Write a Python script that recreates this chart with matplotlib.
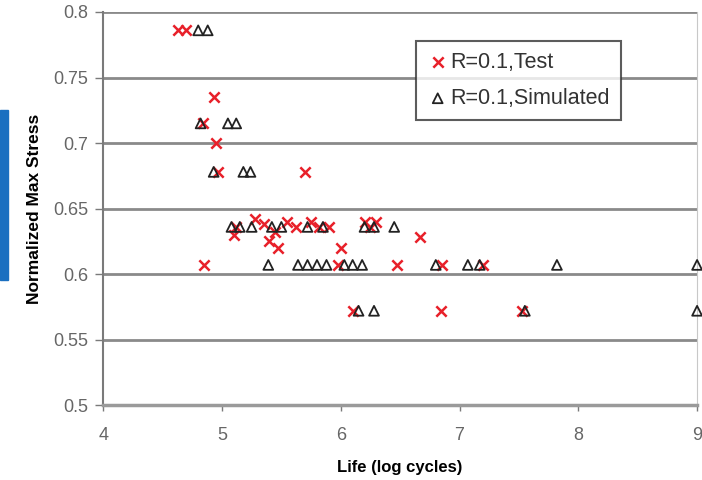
import matplotlib
matplotlib.use('Agg')
import matplotlib.pyplot as plt
from matplotlib.patches import Rectangle

plt.rcParams['font.family'] = ['Liberation Sans', 'DejaVu Sans']

# R=0.1, Test (red x markers)
test_life = [4.63, 4.70, 4.93, 4.84, 4.95, 4.97, 5.70,
             5.10, 5.12, 5.28, 5.35, 5.40, 5.45, 5.47, 5.55, 5.62, 5.75, 5.82,
             5.90, 6.00, 6.20, 6.25, 6.30, 6.67,
             4.85, 5.98, 6.47, 6.85, 7.20,
             6.10, 6.84, 7.53]
test_stress = [0.786, 0.786, 0.735, 0.715, 0.700, 0.678, 0.678,
               0.630, 0.636, 0.642, 0.638, 0.625, 0.632, 0.620, 0.640, 0.636, 0.640, 0.636,
               0.636, 0.620, 0.640, 0.636, 0.640, 0.628,
               0.607, 0.607, 0.607, 0.607, 0.607,
               0.572, 0.572, 0.572]

# R=0.1, Simulated (open triangles)
sim_life = [4.80, 4.88, 4.82, 5.05, 5.12, 4.93, 5.18, 5.24,
            5.08, 5.15, 5.25, 5.42, 5.50, 5.72, 5.85, 6.20, 6.28, 6.45,
            5.39, 5.64, 5.72, 5.80, 5.88, 6.03, 6.10, 6.18, 6.80, 7.07, 7.17, 7.82, 9.00,
            6.15, 6.28, 7.55, 9.00]
sim_stress = [0.786, 0.786, 0.715, 0.715, 0.715, 0.678, 0.678, 0.678,
              0.636, 0.636, 0.636, 0.636, 0.636, 0.636, 0.636, 0.636, 0.636, 0.636,
              0.607, 0.607, 0.607, 0.607, 0.607, 0.607, 0.607, 0.607, 0.607, 0.607, 0.607, 0.607, 0.607,
              0.572, 0.572, 0.572, 0.572]

x_ticks = [4, 5, 6, 7, 8, 9]
y_ticks = [0.5, 0.55, 0.6, 0.65, 0.7, 0.75, 0.8]

fig = plt.figure(figsize=(7.02, 4.8), dpi=100)
ax = fig.add_axes([0.147, 0.156, 0.846, 0.819])

# blue strip at the left edge
fig.patches.append(Rectangle((0, 0.417), 0.011, 0.354, transform=fig.transFigure,
                             color='#1a6fc0', zorder=0))

for y in y_ticks[1:]:
    ax.axhline(y, color='#8a8a8a', lw=2, zorder=1)

ax.scatter(test_life, test_stress, marker='x', s=55, color='#e8202a', linewidths=1.8,
           label='R=0.1,Test', zorder=3, clip_on=False)
ax.scatter(sim_life, sim_stress, marker='^', s=50, facecolors='none', edgecolors='#222222',
           linewidths=1.3, label='R=0.1,Simulated', zorder=4, clip_on=False)

ax.set_xlim(4, 9)
ax.set_ylim(0.5, 0.8)
ax.set_xticks(x_ticks)
ax.set_yticks(y_ticks)
ax.set_yticklabels(['0.5', '0.55', '0.6', '0.65', '0.7', '0.75', '0.8'])

ax.spines['top'].set_visible(False)
ax.spines['right'].set_color('#c8c8c8')
ax.spines['left'].set_color('#7a7a7a')
ax.spines['left'].set_linewidth(1.5)
ax.spines['bottom'].set_color('#9a9a9a')
ax.spines['bottom'].set_linewidth(2.5)

ax.tick_params(axis='both', colors='#7a7a7a', labelcolor='#666666', labelsize=13)
ax.tick_params(axis='y', length=6, width=1, pad=5)
ax.tick_params(axis='x', length=4, width=1, pad=12)

ax.set_xlabel('Life (log cycles)', fontsize=12, fontweight='bold', labelpad=11)
ax.set_ylabel('Normalized Max Stress', fontsize=12.5, fontweight='bold', labelpad=8)

leg = ax.legend(loc='upper left', bbox_to_anchor=(0.527, 0.926), fontsize=15.5,
                frameon=True, fancybox=False, edgecolor='#333333',
                handletextpad=0.1, handlelength=1.0, borderpad=0.5, labelspacing=0.7,
                borderaxespad=0)
leg.get_frame().set_linewidth(1.5)
for t in leg.get_texts():
    t.set_color('#333333')

fig.savefig('out.png', dpi=100)
